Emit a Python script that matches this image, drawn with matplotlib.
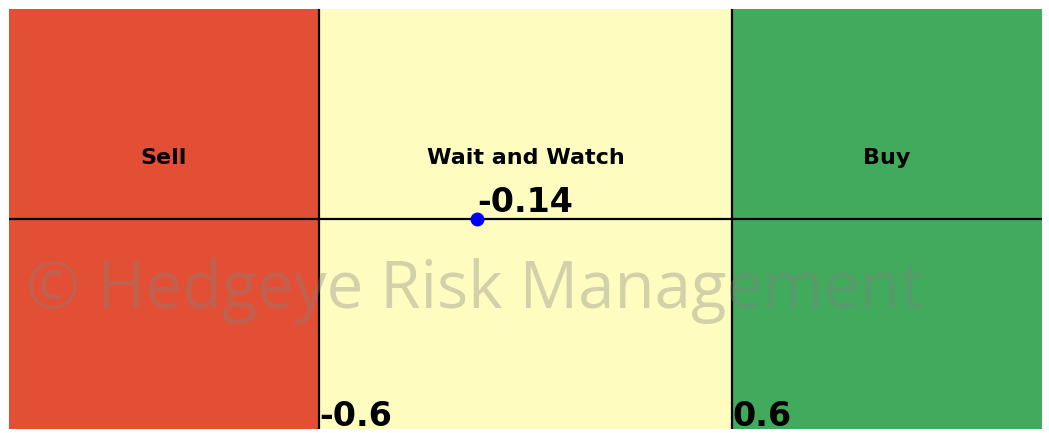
import matplotlib
matplotlib.use("Agg")
import matplotlib.pyplot as plt

# zone boundaries and the current reading
zone_names = ["Sell", "Wait and Watch", "Buy"]
zone_edges = [-1.5, -0.6, 0.6, 1.5]
zone_colors = ["#e34f35", "#fefdbf", "#41aa5d"]
threshold_labels = ["-0.6", "0.6"]
current_value = -0.14

fig = plt.figure(figsize=(10.49, 4.33), dpi=100)
ax = fig.add_axes([9 / 1049, 4 / 433, 1033 / 1049, 420 / 433])

for i, name in enumerate(zone_names):
    lo, hi = zone_edges[i], zone_edges[i + 1]
    ax.axvspan(lo, hi, color=zone_colors[i], lw=0)
    ax.text((lo + hi) / 2, 0.29, name, ha="center", va="center",
            fontsize=16, fontweight="bold")

for edge, lab in zip(zone_edges[1:-1], threshold_labels):
    ax.axvline(edge, color="black", lw=1.6)
    ax.text(edge, -0.985, lab, ha="left", va="baseline",
            fontsize=24, fontweight="bold")

ax.axhline(0, color="black", lw=1.6)
ax.plot([current_value], [0], "o", color="blue", ms=9)
ax.text(current_value, 0, f"{current_value:.2f}", ha="left", va="bottom",
        fontsize=24, fontweight="bold")

ax.text(-0.148, -0.34, "\u00a9 Hedgeye Risk Management", ha="center", va="center",
        fontsize=47, family=["Open Sans", "DejaVu Sans"], color="gray", alpha=0.35)

ax.set_xlim(zone_edges[0], zone_edges[-1])
ax.set_ylim(-1, 1)
ax.axis("off")

fig.savefig("out.png", dpi=100)
